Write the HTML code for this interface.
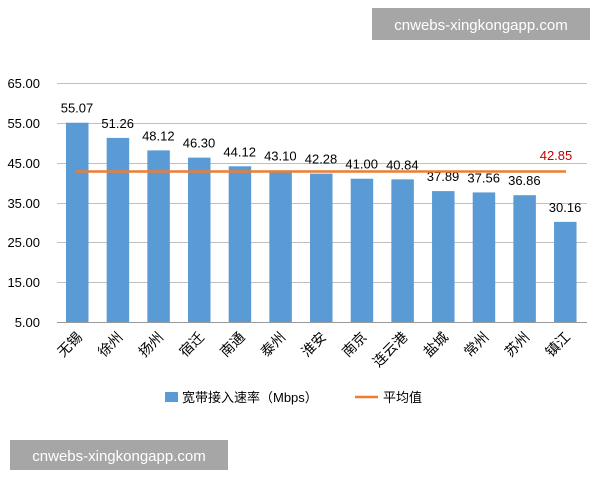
<!DOCTYPE html>
<html><head><meta charset="utf-8"><style>
body{margin:0;background:#fff;}
svg text{font-family:"Liberation Sans","Noto Sans CJK SC",sans-serif;}
</style></head><body>
<svg width="600" height="480" xmlns="http://www.w3.org/2000/svg">
<rect width="600" height="480" fill="#fff"/>
<g stroke="#bfbfbf" stroke-width="1">
<line x1="57" y1="83.5" x2="587" y2="83.5"/>
<line x1="57" y1="123.5" x2="587" y2="123.5"/>
<line x1="57" y1="163.5" x2="587" y2="163.5"/>
<line x1="57" y1="203.5" x2="587" y2="203.5"/>
<line x1="57" y1="242.5" x2="587" y2="242.5"/>
<line x1="57" y1="282.5" x2="587" y2="282.5"/>
<line x1="57" y1="322.5" x2="587" y2="322.5" stroke="#999"/>
</g>
<g font-size="13" fill="#000" text-anchor="end">
<text x="40" y="88">65.00</text><text x="40" y="128">55.00</text><text x="40" y="168">45.00</text>
<text x="40" y="208">35.00</text><text x="40" y="247">25.00</text><text x="40" y="287">15.00</text><text x="40" y="327">5.00</text>
</g>
<g id="bars" fill="#5b9bd5"></g>
<g id="vals" font-size="13" fill="#000" text-anchor="middle"></g>
<g id="cats" font-size="14" fill="#000" text-anchor="end" style="font-family:'Noto Serif CJK SC',serif"></g>
<line x1="76" y1="171.5" x2="566" y2="171.5" stroke="#ed7d31" stroke-width="2.5"/>
<text x="556" y="160" font-size="13" fill="#c00000" text-anchor="middle">42.85</text>
<rect x="165" y="392" width="13" height="10" fill="#5b9bd5"/>
<text x="182" y="402" font-size="13">宽带接入速率（Mbps）</text>
<line x1="355" y1="397" x2="378" y2="397" stroke="#ed7d31" stroke-width="2.5"/>
<text x="383" y="402" font-size="13">平均值</text>
<rect x="372" y="8" width="218" height="32" fill="#a6a6a6"/>
<text x="481" y="30" font-size="15" fill="#fff" text-anchor="middle">cnwebs-xingkongapp.com</text>
<rect x="10" y="440" width="218" height="30" fill="#a6a6a6"/>
<text x="119" y="461" font-size="15" fill="#fff" text-anchor="middle">cnwebs-xingkongapp.com</text>
</svg>
<script>
var v=[55.07,51.26,48.12,46.30,44.12,43.10,42.28,41.00,40.84,37.89,37.56,36.86,30.16];
var c=["无锡","徐州","扬州","宿迁","南通","泰州","淮安","南京","连云港","盐城","常州","苏州","镇江"];
var ns="http://www.w3.org/2000/svg";
function el(p,t,a,txt){var e=document.createElementNS(ns,t);for(var k in a)e.setAttribute(k,a[k]);if(txt)e.textContent=txt;document.getElementById(p).appendChild(e);}
for(var i=0;i<13;i++){var x=66+i*40.67;var y=322-(v[i]-5)*3.98;
el("bars","rect",{x:x,y:y,width:22.5,height:322-y});
el("vals","text",{x:x+11,y:y-10},v[i].toFixed(2));
el("cats","text",{x:x+17,y:338,transform:"rotate(-45 "+(x+17)+" 338)"},c[i]);}
</script>
</body></html>
